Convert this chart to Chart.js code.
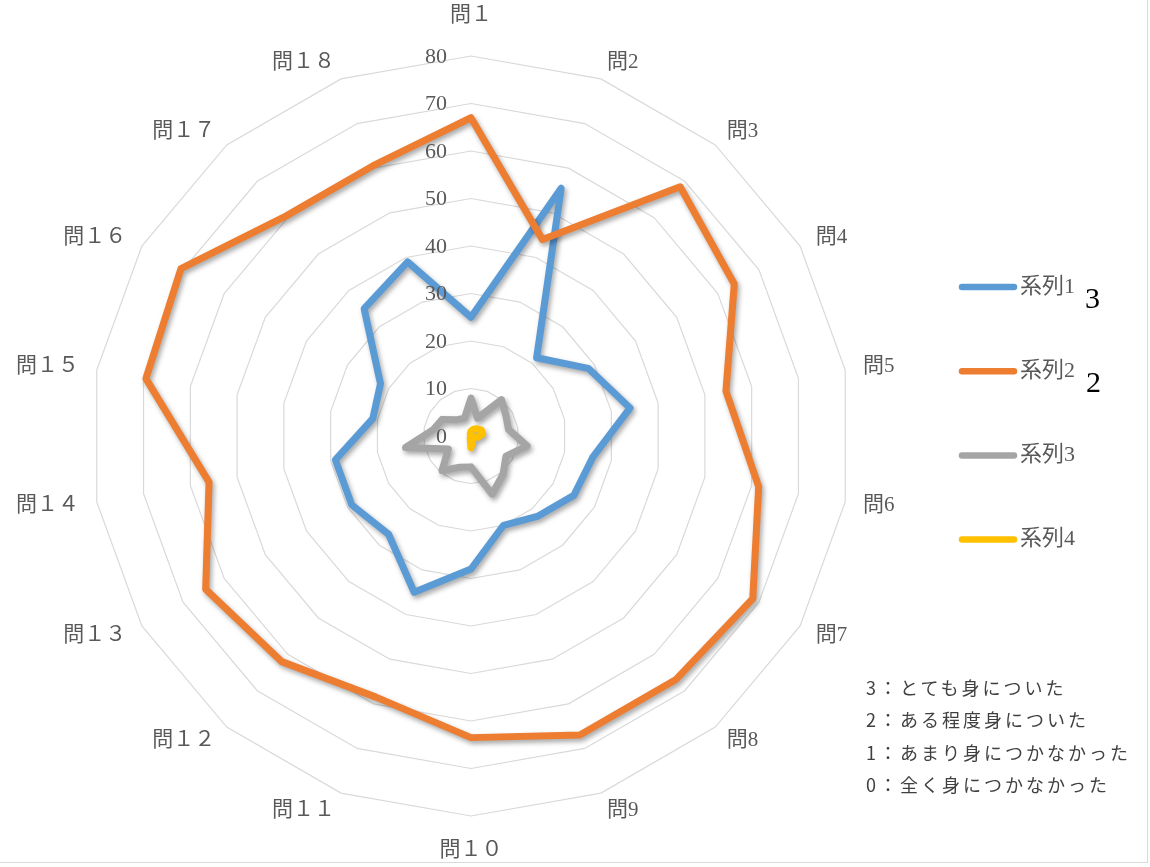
<!DOCTYPE html>
<html lang="ja">
<head>
<meta charset="utf-8">
<title>アンケート結果</title>
<script src="https://cdn.jsdelivr.net/npm/chart.js@4.4.1/dist/chart.umd.min.js"></script>
<style>
  html, body { margin: 0; padding: 0; background: #fff; }
  #wrap { position: relative; width: 1147px; height: 862px; border-right: 1px solid #d9d9d9; border-bottom: 1px solid #d9d9d9; overflow: hidden; }
  #box { position: absolute; left: 0; top: 0; width: 1150px; height: 867px; }
  .big { position: absolute; font: 30px "Liberation Serif", serif; color: #000; line-height: 30px; }
  #note { position: absolute; left: 866px; top: 671px; font: 18px "Noto Sans CJK JP", sans-serif; color: #404040; letter-spacing: 3px; line-height: 32.4px; white-space: nowrap; }
</style>
</head>
<body>
<div id="wrap">
  <div id="box"><canvas id="myChart"></canvas></div>
  <div class="big" style="left:1085px; top:283px;">3</div>
  <div class="big" style="left:1086px; top:367px;">2</div>
  <div id="note">
    <div>3：とても身についた</div>
    <div>2：ある程度身についた</div>
    <div>1：あまり身につかなかった</div>
    <div>0：全く身につかなかった</div>
  </div>
</div>
<script>
// 設問ラベル
var labels = ['問１', '問2', '問3', '問4', '問5', '問6', '問7', '問8', '問9',
              '問１０', '問１１', '問１２', '問１３', '問１４', '問１５', '問１６', '問１７', '問１８']

// 各系列の人数
var series1 = [25, 55.5, 21.5, 28.5, 34, 26, 25, 22, 20, 28, 35, 27, 29, 29, 21, 22, 35, 39]
var series2 = [67, 44, 68.5, 64, 54.5, 61.5, 68.5, 67, 67, 63.5, 58.5, 62, 64.5, 56, 69.5, 70.5, 60.5, 60.5]
var series3 = [8, 4, 10, 8.5, 8, 12, 8.5, 10.5, 13, 6.5, 7, 9.5, 5.5, 14, 8, 7, 4.5, 4]
var series4 = [1, 1.5, 2, 2.5, 2.5, 1.5, 0.5, 0.5, 1, 2.5, 0.5, 0, 0, 0, 0, 0, 0, 0.5]

var seriesNames = ['系列1', '系列2', '系列3', '系列4']
var seriesColors = ['#5B9BD5', '#ED7D31', '#A5A5A5', '#FFC000']

var labelFont = '21px "Liberation Serif", "Noto Sans CJK JP", serif'
var textColor = '#595959'

//線の影
var shadowPlugin = {
    id: 'shadow',
    beforeDatasetsDraw: function(chart) {
        var ctx = chart.ctx
        ctx.save()
        ctx.shadowColor = 'rgba(0,0,0,0.35)'
        ctx.shadowBlur = 5
        ctx.shadowOffsetX = 2
        ctx.shadowOffsetY = 3
    },
    afterDatasetsDraw: function(chart) {
        chart.ctx.restore()
    }
}

//目盛りと設問ラベルと凡例
var textPlugin = {
    id: 'texts',
    afterDraw: function(chart) {
        var ctx = chart.ctx
        var r = chart.scales.r
        ctx.save()
        ctx.fillStyle = textColor

        // 目盛り (軸の左側に右寄せ)
        ctx.font = '22px "Liberation Serif", serif'
        ctx.textAlign = 'right'
        ctx.textBaseline = 'middle'
        r.ticks.forEach(function(t) {
            var y = r.yCenter - r.getDistanceFromCenterForValue(t.value)
            ctx.fillText(String(t.value), r.xCenter - 24, y + 1)
        })

        // 設問ラベル: 右側は左端、左側は右端を基準点に合わせる
        ctx.font = labelFont
        labels.forEach(function(lab, i) {
            var p = r.getPointPosition(i, r.drawingArea + 18)
            var dx = p.x - r.xCenter
            if (Math.abs(dx) < 1) {
                ctx.textAlign = 'center'
                var up = p.y < r.yCenter
                ctx.fillText(lab, p.x, up ? p.y - 23 : p.y + 16)
            } else {
                ctx.textAlign = dx > 0 ? 'left' : 'right'
                ctx.fillText(lab, p.x, p.y)
            }
        })

        // 凡例
        ctx.textAlign = 'left'
        ctx.font = '22px "Liberation Serif", "Noto Sans CJK JP", serif'
        chart.data.datasets.forEach(function(ds, i) {
            var y = 287 + i * 84.2
            ctx.strokeStyle = ds.borderColor
            ctx.lineWidth = 6.5
            ctx.lineCap = 'round'
            ctx.beginPath()
            ctx.moveTo(962, y)
            ctx.lineTo(1014, y)
            ctx.stroke()
            ctx.fillText(ds.label, 1020, y)
        })
        ctx.restore()
    }
}

var allSeries = [series1, series2, series3, series4]
var datasets = allSeries.map(function(values, i) {
    return {
        label: seriesNames[i],
        data: values,
        borderColor: seriesColors[i],
        backgroundColor: seriesColors[i],
        borderWidth: 7,
        borderJoinStyle: 'round',
        fill: false,
        pointRadius: 0,
        pointHoverRadius: 0,
        order: allSeries.length - 1 - i
    }
})

var ctx = document.getElementById('myChart').getContext('2d')
var myChart = new Chart(ctx, {
    type: 'radar',
    data: { labels: labels, datasets: datasets },
    options: {
        responsive: true,
        maintainAspectRatio: false,
        animation: false,
        layout: { padding: { left: 91, right: 299, top: 56, bottom: 51 } },
        plugins: {
            legend: { display: false },
            tooltip: { enabled: false }
        },
        scales: {
            r: {
                min: 0,
                max: 80,
                ticks: { stepSize: 10, display: false },
                pointLabels: { display: false },
                angleLines: { display: false },
                grid: { color: '#d9d9d9', lineWidth: 1.2 }
            }
        }
    },
    plugins: [shadowPlugin, textPlugin]
})
</script>
</body>
</html>
